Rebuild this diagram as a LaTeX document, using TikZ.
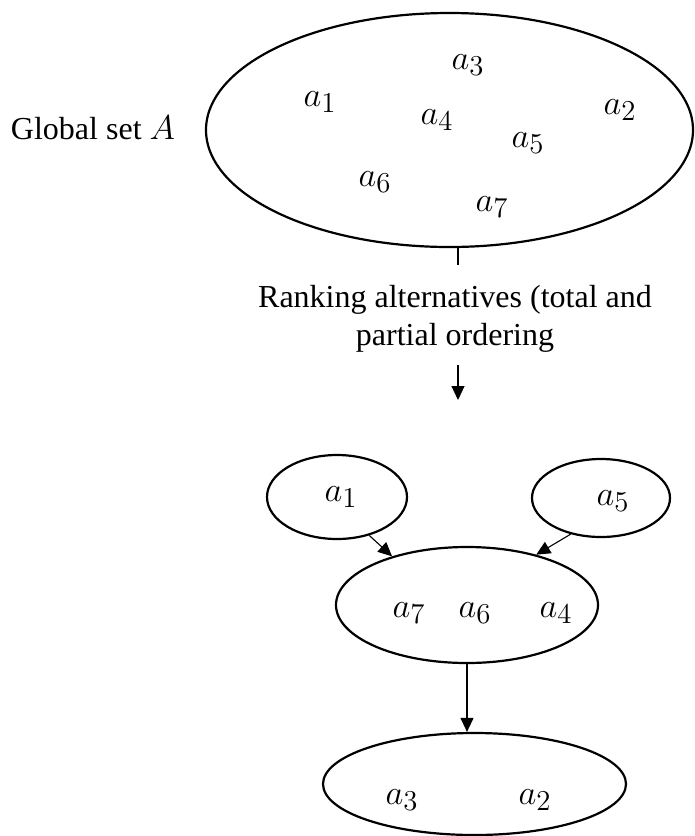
\documentclass[tikz,border=0pt]{standalone}
\usepackage{fontspec}
\setmainfont{Liberation Serif}
\usetikzlibrary{shapes.geometric}
\usetikzlibrary{arrows.meta}

\begin{document}
\begin{tikzpicture}[x=0.5pt,y=-0.5pt,
    set/.style={draw, ellipse, line width=1.1pt, inner sep=0pt},
    txt/.style={font=\fontsize{16}{19}\selectfont},
    elem/.style={font=\fontsize{19}{22}\selectfont},
    link/.style={line width=0.55pt, -{Triangle[width=6.5pt,length=7pt]}}]
 \useasboundingbox (0,0) rectangle (695,836);
 \node[set, minimum width=243.5pt, minimum height=117pt] (big) at (449.5,130) {};
 \node[set, minimum width=70pt, minimum height=42pt] (s1) at (337,497) {};
 \node[set, minimum width=69pt, minimum height=39pt] (s5) at (601,498) {};
 \node[set, minimum width=131pt, minimum height=58pt] (mid) at (467,605) {};
 \node[set, minimum width=151.5pt, minimum height=51pt] (bot) at (474.5,784) {};
 \node[txt] (glob) at (93,128) {Global set $A$};
 \node[elem] (ga1) at (320,102) {$a_1$};
 \node[elem] (ga3) at (468,65) {$a_3$};
 \node[elem] (ga4) at (437,120) {$a_4$};
 \node[elem] (ga2) at (620,110) {$a_2$};
 \node[elem] (ga5) at (528,143) {$a_5$};
 \node[elem] (ga6) at (375,182) {$a_6$};
 \node[elem] (ga7) at (492,207) {$a_7$};
 \node[txt, align=center] (rank) at (455,319) {Ranking alternatives (total and\\partial ordering};
 \coordinate (t1) at (458,265);
 \coordinate (r0) at (458,365);
 \coordinate (r1) at (458,400);
 \draw[line width=0.55pt] (t1 |- big.south) -- (t1);
 \draw[link] (r0) -- (r1);
 \node[elem] (sa1) at (341,497) {$a_1$};
 \node[elem] (sa5) at (613,501) {$a_5$};
 \node[elem] (ma7) at (409,613) {$a_7$};
 \node[elem] (ma6) at (475,613) {$a_6$};
 \node[elem] (ma4) at (556,613) {$a_4$};
 \node[elem] (ba3) at (402,800) {$a_3$};
 \node[elem] (ba2) at (535,800) {$a_2$};
 \draw[link] (s1.-50) -- (mid.147);
 \draw[link] (s5.230) -- (mid.36);
 \draw[link] (mid.south) -- (mid.south |- bot.north);
\end{tikzpicture}
\end{document}
